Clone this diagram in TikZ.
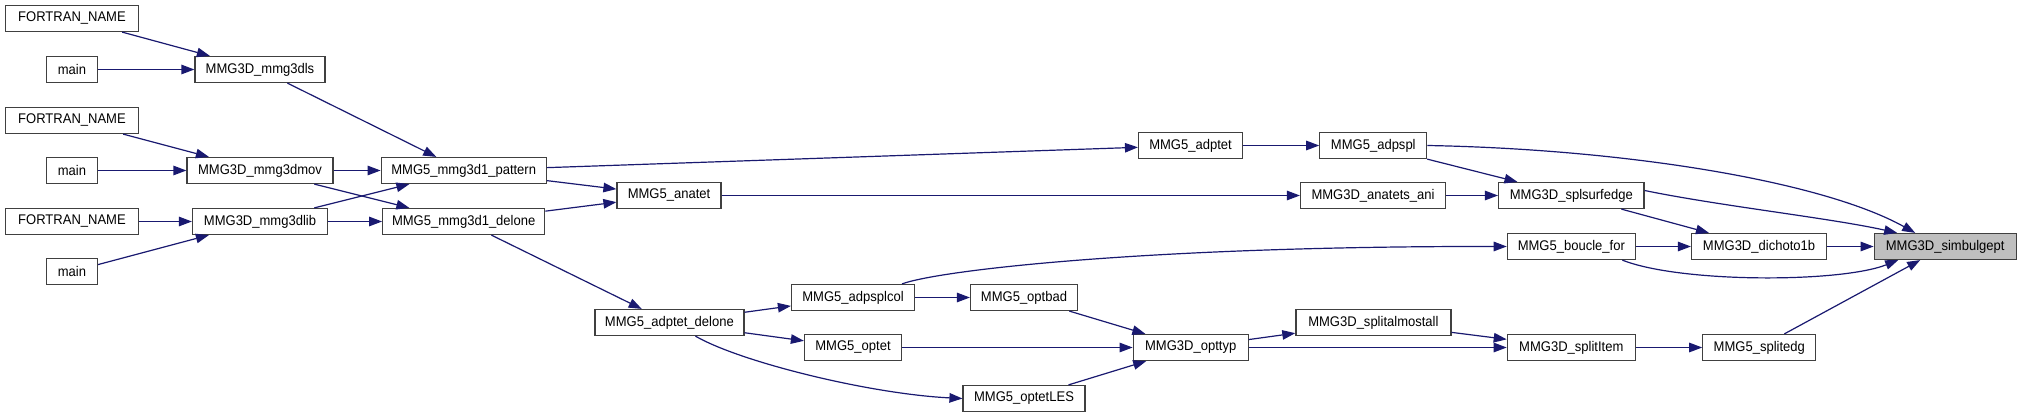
\documentclass[tikz,border=0pt]{standalone}
\usepackage{fontspec}
\setmainfont{Liberation Sans}[FakeStretch=0.93]
\usetikzlibrary{arrows.meta}
\definecolor{edgeblue}{HTML}{191970}
\definecolor{boxborder}{HTML}{404040}
\definecolor{rootfill}{HTML}{BFBFBF}
\begin{document}
\begin{tikzpicture}[x=1pt,y=-1pt,
  fn/.style={draw=boxborder, line width=1.2pt, fill=white, minimum height=26pt, inner sep=0pt,
    font=\fontsize{14}{16}\selectfont, anchor=center},
  rootfn/.style={fn, fill=rootfill},
  call/.style={draw=edgeblue, line width=1.2pt, -{Triangle[length=13pt,width=9.5pt]}}]
\fill[white] (0,0) rectangle (2021,417);
\useasboundingbox (0,0) rectangle (2021,417);
% column 1
\node[fn, minimum width=133pt] (f1) at (72,18.5) {FORTRAN\_NAME};
\node[fn, minimum width=51pt] (m1) at (72,69.5) {main};
\node[fn, minimum width=133pt] (f2) at (72,120.5) {FORTRAN\_NAME};
\node[fn, minimum width=51pt] (m2) at (72,170.5) {main};
\node[fn, minimum width=133pt] (f3) at (72,221.5) {FORTRAN\_NAME};
\node[fn, minimum width=51pt] (m3) at (72,271.5) {main};
% column 2
\node[fn, minimum width=130pt] (ls) at (260,69.5) {MMG3D\_mmg3dls};
\node[fn, minimum width=146pt] (mov) at (260,170.5) {MMG3D\_mmg3dmov};
\node[fn, minimum width=135pt] (lib) at (260,221.5) {MMG3D\_mmg3dlib};
% column 3
\node[fn, minimum width=165pt] (pat) at (463.7,170.5) {MMG5\_mmg3d1\_pattern};
\node[fn, minimum width=162pt] (del) at (463.7,221.5) {MMG5\_mmg3d1\_delone};
% column 4
\node[fn, minimum width=104pt] (anatet) at (669,195.5) {MMG5\_anatet};
\node[fn, minimum width=149pt] (adel) at (669.4,322.5) {MMG5\_adptet\_delone};
% column 5
\node[fn, minimum width=123pt] (adpsplcol) at (853,297.5) {MMG5\_adpsplcol};
\node[fn, minimum width=97pt] (optet) at (853,347.5) {MMG5\_optet};
% column 6
\node[fn, minimum width=107pt] (optbad) at (1024,297.5) {MMG5\_optbad};
\node[fn, minimum width=122pt] (optetLES) at (1024,398.5) {MMG5\_optetLES};
% column 7
\node[fn, minimum width=104pt] (adptet) at (1190.5,145.5) {MMG5\_adptet};
\node[fn, minimum width=115pt] (opttyp) at (1190.7,347.5) {MMG3D\_opttyp};
% column 8
\node[fn, minimum width=107pt] (adpspl) at (1373.3,145.5) {MMG5\_adpspl};
\node[fn, minimum width=145pt] (anani) at (1373,195.5) {MMG3D\_anatets\_ani};
\node[fn, minimum width=155pt] (splall) at (1373.4,322.5) {MMG3D\_splitalmostall};
% column 9
\node[fn, minimum width=145.5pt] (splsurf) at (1571.3,195.5) {MMG3D\_splsurfedge};
\node[fn, minimum width=128pt] (boucle) at (1571.3,246.5) {MMG5\_boucle\_for};
\node[fn, minimum width=128pt] (splitItem) at (1571.3,347.5) {MMG3D\_splitItem};
% column 10
\node[fn, minimum width=135pt] (dich) at (1759,246.5) {MMG3D\_dichoto1b};
\node[fn, minimum width=113pt] (splitedg) at (1759.3,347.5) {MMG5\_splitedg};
% root
\node[rootfn, minimum width=142pt] (simb) at (1945.2,246.5) {MMG3D\_simbulgept};

% edges
\draw[call] (f1) -- (ls);
\draw[call] (m1) -- (ls);
\draw[call] (ls) -- (pat);
\draw[call] (f2) -- (mov);
\draw[call] (m2) -- (mov);
\draw[call] (mov) -- (pat);
\draw[call] (mov) -- (del);
\draw[call] (lib) -- (pat);
\draw[call] (f3) -- (lib);
\draw[call] (m3) -- (lib);
\draw[call] (lib) -- (del);
\draw[call] (pat) -- (anatet);
\draw[call] (del) -- (anatet);
\draw[call] (del) -- (adel);
\draw[call] (pat) -- (adptet);
\draw[call] (anatet) -- (anani);
\draw[call] (adptet) -- (adpspl);
\draw[call] (adpspl.east) .. controls (1620,149) and (1820,180) .. ([xshift=-30pt]simb.north);
\draw[call] (adpspl) -- (splsurf);
\draw[call] (anani) -- (splsurf);
\draw[call] ([yshift=5pt]splsurf.east) .. controls (1720,206) and (1830,218) .. ([xshift=-48pt]simb.north);
\draw[call] (splsurf) -- (dich);
\draw[call] ([xshift=49pt]adpsplcol.north) .. controls (940,270) and (1150,246) .. (boucle.west);
\draw[call] (boucle) -- (dich);
\draw[call] (dich) -- (simb);
\draw[call] ([xshift=51pt]boucle.south) .. controls (1680,283) and (1840,283) .. ([xshift=-47pt]simb.south);
\draw[call] (splitedg) -- (simb);
\draw[call] (adel) -- (adpsplcol);
\draw[call] (adel) -- (optet);
\draw[call] ([xshift=26pt]adel.south) .. controls (740,362) and (870,394) .. (optetLES.west);
\draw[call] (adpsplcol) -- (optbad);
\draw[call] (optbad) -- (opttyp);
\draw[call] (optet) -- (opttyp);
\draw[call] (optetLES) -- (opttyp);
\draw[call] (opttyp) -- (splall);
\draw[call] (opttyp) -- (splitItem);
\draw[call] (splall) -- (splitItem);
\draw[call] (splitItem) -- (splitedg);
\end{tikzpicture}
\end{document}
